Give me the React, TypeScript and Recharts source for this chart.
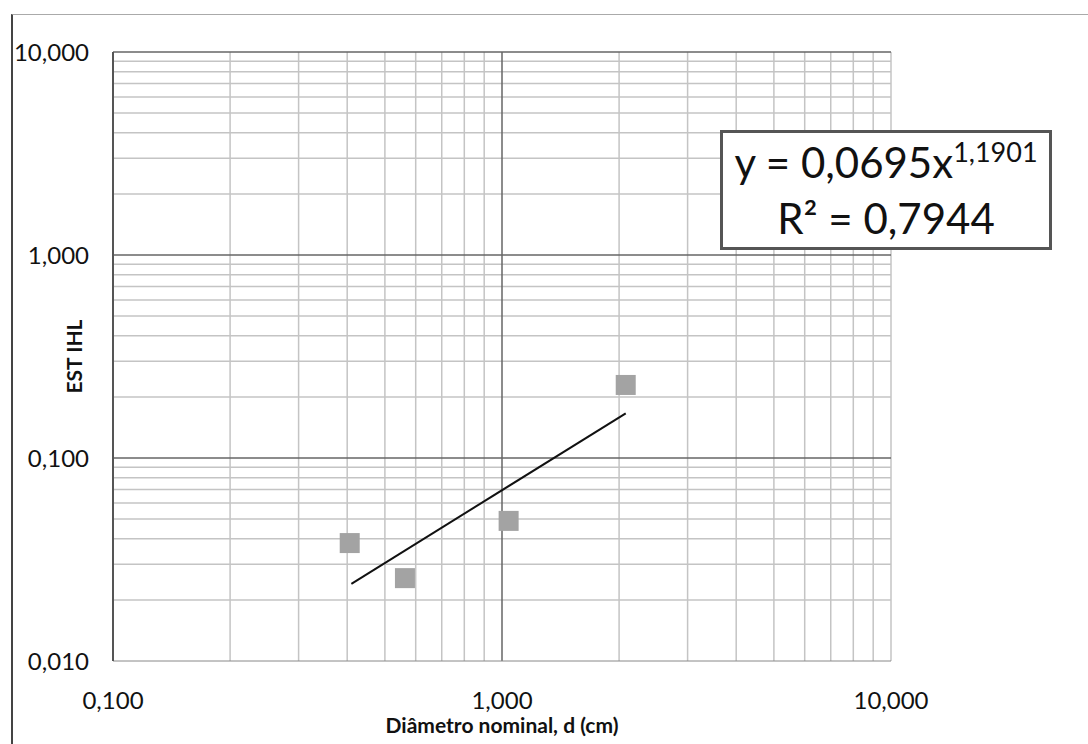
import { ScatterChart, Scatter, XAxis, YAxis, ReferenceLine } from 'recharts'

// measured points (diameter cm, EST IHL)
const diametro = [0.406, 0.563, 1.04, 2.08]
const estIhl = [0.0381, 0.0256, 0.049, 0.229]

// trend line endpoints
const trendX = [0.41, 2.08]
const trendY = [0.024, 0.166]

const xTicks = [0.1, 1, 10]
const yTicks = [0.01, 0.1, 1, 10]
const xMinor = [0.2, 0.3, 0.4, 0.5, 0.6, 0.7, 0.8, 0.9, 2, 3, 4, 5, 6, 7, 8, 9, 10]
const yMinor = [0.02, 0.03, 0.04, 0.05, 0.06, 0.07, 0.08, 0.09, 0.2, 0.3, 0.4, 0.5, 0.6, 0.7, 0.8, 0.9, 2, 3, 4, 5, 6, 7, 8, 9]
const xMajor = [1]
const yMajor = [0.1, 1, 10]

const points = diametro.map((d, i) => ({ x: d, y: estIhl[i] }))
const trend = trendX.map((x, i) => ({ x, y: trendY[i] }))

const fmt = (v: number) => v.toFixed(3).replace('.', ',')
const font = 'Lato, "Noto Sans", sans-serif'

const Square = (p: any) => <rect x={p.cx - 10} y={p.cy - 10} width={20} height={20} fill="#a3a3a3" />

export default function App() {
  return (
    <div style={{ position: 'absolute', left: 0, top: 0, width: 1088, height: 744, background: '#fff', fontFamily: font }}>
      {/* scanned page frame */}
      <div style={{ position: 'absolute', left: 11, top: 14, width: 1077, height: 730, borderLeft: '2px solid #444', borderTop: '1px solid #aaa' }} />
      <ScatterChart width={1088} height={744} margin={{ top: 52, right: 197, bottom: 3, left: 13 }}
        style={{ position: 'absolute', left: 0, top: 0 }}>
        <XAxis type="number" dataKey="x" scale="log" domain={[0.1, 10]} ticks={xTicks} allowDataOverflow
          tickFormatter={fmt} tickLine={false} tickSize={0} tickMargin={31} height={80}
          axisLine={{ stroke: '#888' }}
          tick={{ fill: '#111', fontSize: 24, fontFamily: font }}
          label={{ value: 'Diâmetro nominal, d (cm)', position: 'insideBottom', offset: 8,
            style: { fill: '#111', fontSize: 21, fontWeight: 700, fontFamily: font } }} />
        <YAxis type="number" dataKey="y" scale="log" domain={[0.01, 10]} ticks={yTicks} allowDataOverflow
          tickFormatter={fmt} tickLine={false} tickSize={0} tickMargin={24} width={100}
          axisLine={{ stroke: '#555', strokeWidth: 2 }}
          tick={{ fill: '#111', fontSize: 24, fontFamily: font }}
          label={{ value: 'EST IHL', angle: -90, position: 'insideLeft', offset: 62,
            style: { fill: '#111', fontSize: 21, fontWeight: 700, fontFamily: font, textAnchor: 'middle' } }} />
        {xMinor.map(v => <ReferenceLine key={'xm' + v} x={v} stroke="#c4c4c4" strokeWidth={1.5} />)}
        {yMinor.map(v => <ReferenceLine key={'ym' + v} y={v} stroke="#c4c4c4" strokeWidth={1.5} />)}
        {xMajor.map(v => <ReferenceLine key={'xM' + v} x={v} stroke="#666" strokeWidth={1.5} />)}
        {yMajor.map(v => <ReferenceLine key={'yM' + v} y={v} stroke="#666" strokeWidth={1.5} />)}
        <Scatter data={points} fill="#a3a3a3" shape={Square} isAnimationActive={false} />
        <Scatter data={trend} line={{ stroke: '#111', strokeWidth: 2 }} shape={() => <g />} isAnimationActive={false} />
      </ScatterChart>
      {/* trendline equation box */}
      <div style={{ position: 'absolute', left: 720, top: 130, width: 326, height: 114, border: '3px solid #555',
        background: '#fff', color: '#111', fontSize: 42, lineHeight: '56px', textAlign: 'center',
        display: 'flex', flexDirection: 'column', justifyContent: 'center' }}>
        <div>y = 0,0695x<sup style={{ fontSize: 27, verticalAlign: 'top', lineHeight: '27px', position: 'relative', top: 4 }}>1,1901</sup></div>
        <div>R² = 0,7944</div>
      </div>
    </div>
  )
}
